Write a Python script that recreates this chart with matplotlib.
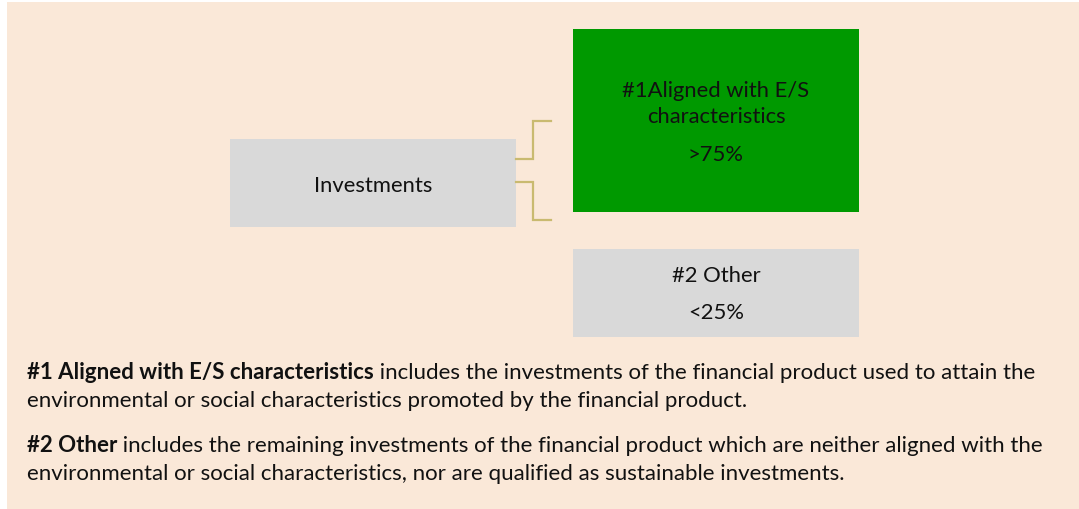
import matplotlib
matplotlib.use("Agg")
import matplotlib.pyplot as plt
from matplotlib.patches import Rectangle

# ---- content ----
root_label = "Investments"
cat1_label = "#1Aligned with E/S\ncharacteristics"
cat1_value = ">75%"
cat2_label = "#2 Other"
cat2_value = "<25%"
note1_bold = "#1 Aligned with E/S characteristics"
note1_rest = [" includes the investments of the financial product used to attain the",
              "environmental or social characteristics promoted by the financial product."]
note2_bold = "#2 Other"
note2_rest = [" includes the remaining investments of the financial product which are neither aligned with the",
              "environmental or social characteristics, nor are qualified as sustainable investments."]

FONT = "Lato"
BG = "#FAE8D8"
GREEN = "#009900"
GREY = "#D9D9D9"
LINE = "#C9BA70"
TXT = "#111111"

W, H = 1079, 510
fig = plt.figure(figsize=(W / 100, H / 100), dpi=100)
ax = fig.add_axes([0, 0, 1, 1])
ax.set_xlim(0, W)
ax.set_ylim(H, 0)
ax.axis("off")

# panel background
ax.add_patch(Rectangle((7, 3), W - 7, H - 3, facecolor=BG, edgecolor="none"))

# boxes
ax.add_patch(Rectangle((230, 140), 286, 88, facecolor=GREY, edgecolor="none"))
ax.add_patch(Rectangle((573, 30), 286, 183, facecolor=GREEN, edgecolor="none"))
ax.add_patch(Rectangle((573, 250), 286, 88, facecolor=GREY, edgecolor="none"))

# connectors
ax.plot([516, 533, 533, 551], [160, 160, 122, 122], color=LINE, lw=1.6, solid_joinstyle="miter")
ax.plot([516, 533, 533, 551], [183, 183, 221, 221], color=LINE, lw=1.6, solid_joinstyle="miter")

bs = 15.8
ax.text(373, 192, root_label, ha="center", va="baseline", fontsize=bs, family=FONT, color=TXT)
l1, l2 = cat1_label.split("\n")
ax.text(716, 97, l1, ha="center", va="baseline", fontsize=bs, family=FONT, color=TXT)
ax.text(716, 123, l2, ha="center", va="baseline", fontsize=bs, family=FONT, color=TXT)
ax.text(716, 161, cat1_value, ha="center", va="baseline", fontsize=bs, family=FONT, color=TXT)
ax.text(716, 282, cat2_label, ha="center", va="baseline", fontsize=bs, family=FONT, color=TXT)
ax.text(716, 319, cat2_value, ha="center", va="baseline", fontsize=bs, family=FONT, color=TXT)

# notes
ps = 16.0
renderer = fig.canvas.get_renderer()

def para(y0, bold, rest):
    t = ax.text(27, y0, bold, ha="left", va="baseline", fontsize=ps, family=FONT,
                weight="bold", color=TXT)
    bb = t.get_window_extent(renderer=renderer)
    ax.text(27 + bb.width, y0, rest[0], ha="left", va="baseline", fontsize=ps, family=FONT,
            color=TXT)
    ax.text(27, y0 + 28, rest[1], ha="left", va="baseline", fontsize=ps, family=FONT,
            color=TXT)

para(379, note1_bold, note1_rest)
para(452, note2_bold, note2_rest)

fig.savefig("out.png", dpi=100, facecolor="white")
